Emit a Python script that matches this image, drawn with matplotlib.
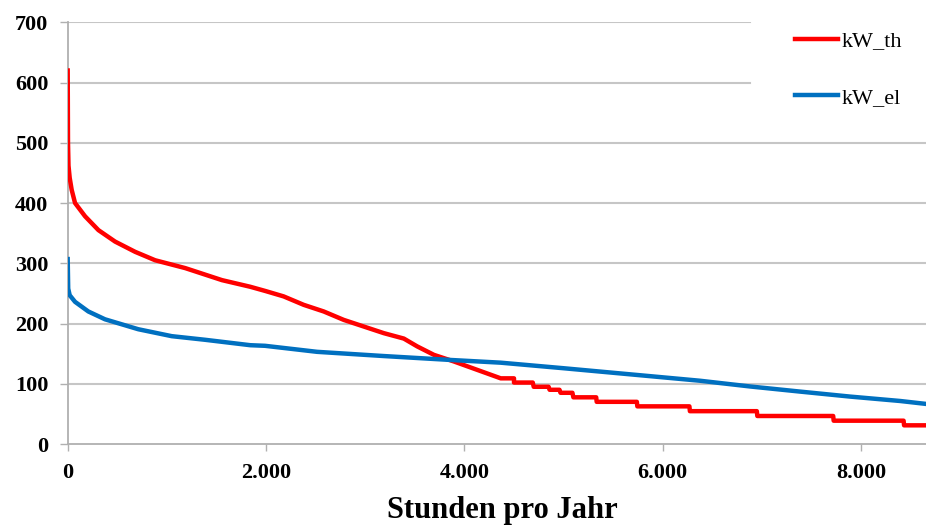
# load duration curves (thermal / electrical)
import matplotlib.pyplot as plt
from matplotlib.ticker import FuncFormatter

# data
hours_th = [0, 3, 8, 20, 40, 74, 175, 310, 478, 680, 882, 1185, 1556, 1841, 1993,
            2178, 2380, 2582, 2784, 2986, 3188, 3390, 3525, 3693, 3895, 4131, 4266,
            4367, 4501, 4501, 4690, 4700, 4850, 4860, 4960, 4970, 5090, 5100, 5330,
            5335, 5740, 5745, 6270, 6275, 6950, 6955, 7720, 7725, 8430, 8435, 8760]
kw_th = [620, 500, 462, 442, 422, 400, 378, 355, 336, 319, 305, 292, 272, 261, 254,
         245, 231, 220, 206, 195, 184, 175, 162, 148, 137, 123, 115,
         109, 109, 102, 102, 95, 95, 90, 90, 85, 85, 77.5, 77.5,
         70, 70, 62.5, 62.5, 54.5, 54.5, 46.5, 46.5, 38.7, 38.7, 31, 31]

hours_el = [0, 5, 20, 74, 208, 376, 712, 1049, 1385, 1841, 1990, 2515, 3188, 3862,
            4367, 5006, 5848, 6377, 6882, 7386, 7891, 8395, 8658, 8760]
kw_el = [307, 258, 247, 236, 220, 207, 190.5, 179, 173, 164, 163, 153, 146, 139.5,
         135, 125.7, 113, 105, 95.5, 87, 78.7, 71.4, 66.5, 65]

y_ticks = [0, 100, 200, 300, 400, 500, 600, 700]
x_ticks = [0, 2000, 4000, 6000, 8000]

plt.rcParams['font.family'] = ['Liberation Serif', 'DejaVu Serif']

fig = plt.figure(figsize=(9.26, 5.29), dpi=100)
W, H = 926, 529
x0, x1 = 67.7, 936.3
y0, y1 = 444, 22.3
ax = fig.add_axes([x0 / W, (H - y0) / H, (x1 - x0) / W, (y0 - y1) / H])

grid_col = '#c6c6c6'
# gridlines, the top ones stop where the legend sits
for yv in y_ticks[1:]:
    xmax = 1.0 if yv <= 500 else (750 - x0) / (x1 - x0)
    ax.axhline(yv, xmin=0, xmax=xmax, color=grid_col, lw=1.5, zorder=0)

ax.plot(hours_th, kw_th, color='#ff0000', lw=3.2, label='kW_th', zorder=3)
ax.plot(hours_el, kw_el, color='#0070c0', lw=3.2, label='kW_el', zorder=3)

ax.set_xlim(0, 8760)
ax.set_ylim(0, 700)
ax.set_xticks(x_ticks)
ax.set_yticks(y_ticks)
ax.xaxis.set_major_formatter(FuncFormatter(lambda v, p: f'{v:,.0f}'.replace(',', '.')))

for s in ['top', 'right']:
    ax.spines[s].set_visible(False)
for s in ['left', 'bottom']:
    ax.spines[s].set_color('#b0b0b0')
    ax.spines[s].set_linewidth(1.3)

ax.tick_params(axis='x', length=5, width=1, color='#b0b0b0', pad=9)
ax.tick_params(axis='y', length=6, width=1, color='#b0b0b0', pad=8)
for lab in ax.get_xticklabels() + ax.get_yticklabels():
    lab.set_fontsize(16)
    lab.set_fontweight('bold')

ax.set_xlabel('Stunden pro Jahr', fontsize=22, fontweight='bold', labelpad=9)

ax.legend(loc='upper left', bbox_to_anchor=(795 / W, 1 - 31 / H),
          bbox_transform=fig.transFigure, frameon=False, fontsize=16,
          handlelength=1.95, handletextpad=0.15, labelspacing=1.6,
          borderaxespad=0, borderpad=0)

fig.savefig('out.png', dpi=100)
